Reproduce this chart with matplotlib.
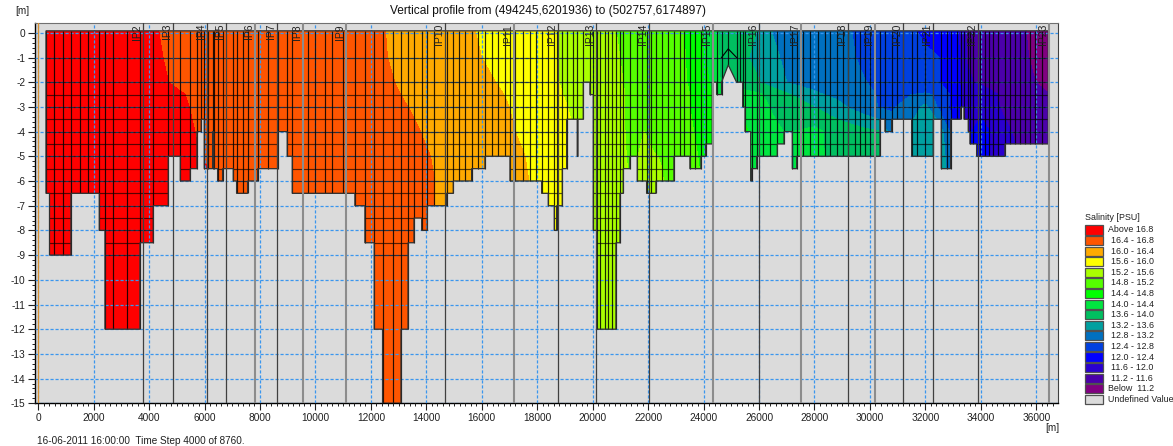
import numpy as np
import matplotlib
matplotlib.use("Agg")
import matplotlib.pyplot as plt
from matplotlib.patches import Polygon, Rectangle

plt.rcParams["font.family"] = ["Liberation Sans", "DejaVu Sans"]
plt.rcParams["axes.unicode_minus"] = False

# ---- class limits and colours, low to high ----
LEVELS = [9, 11.2, 11.6, 12.0, 12.4, 12.8, 13.2, 13.6, 14.0, 14.4, 14.8, 15.2, 15.6, 16.0, 16.4, 16.8, 19]
COLORS = ["#800080", "#4B00AA", "#2A00D0", "#0000FF", "#0040E0", "#0070C0", "#00A0A0", "#00BF60",
          "#00E640", "#00FF00", "#55FF00", "#AAFF00", "#FFFF00", "#FFAA00", "#FF5500", "#FF0000"]
LEGEND_TEXT = ["Above 16.8", "16.4 - 16.8", "16.0 - 16.4", "15.6 - 16.0", "15.2 - 15.6", "14.8 - 15.2",
               "14.4 - 14.8", "14.0 - 14.4", "13.6 - 14.0", "13.2 - 13.6", "12.8 - 13.2", "12.4 - 12.8",
               "12.0 - 12.4", "11.6 - 12.0", "11.2 - 11.6", "Below  11.2", "Undefined Value"]
UNDEF = "#DBDBDB"

# ---- bed: left edge of each step, depth of the step, last entry of bed_x is the end ----
bed_x = [281, 408, 1182, 2204, 2408, 3670, 4151, 4692, 5125, 5485, 5726, 5882, 5990, 6291, 6339, 6471,
         6651, 7036, 7156, 7553, 7913, 8635, 8983, 9164, 11423, 11784, 12120, 12421, 13087, 13340,
         13555, 13831, 14036, 14733, 14973, 15634, 16115, 17017, 18159, 18399, 18615, 18700, 18904,
         19060, 19445, 19470, 19661, 19901, 20022, 20142, 20839, 20983, 21103, 21343, 21608, 21945,
         22281, 22930, 23507, 23904, 24072, 24313, 24469, 24649, 25190, 25410, 25494, 25699, 25735,
         25915, 26660, 26901, 27201, 27357, 30362, 30543, 30783, 31504, 32286, 32574, 32911, 33272,
         33392, 33548, 33608, 33848, 34870, 36433]
bed_z = [-6.5, -9, -6.5, -8, -12, -8.5, -7, -5, -6, -5.5, -4, -3.5, -5.5, -4, -5.5, -6,
         -5.5, -6, -6.5, -6, -5.5, -4, -5, -6.5, -7, -8.5, -12, -15, -12, -8.5,
         -7.5, -8, -7, -6.5, -6, -5.5, -5, -6, -6.5, -7, -8, -7, -5.5,
         -3.5, -5, -3.5, -2, -2.5, -8, -12, -8.5, -6.5, -5.5, -5, -6, -6.5,
         -6, -5, -5.5, -5, -4.5, -2, -2.5, -2, -2, -3, -4, -6, -5.5,
         -5, -4.5, -4, -5.5, -5, -3.5, -4, -3.5, -5, -3.5, -5.5, -3.5, -3,
         -3.5, -4, -4.5, -5, -4.5]
peak_x = [24649, 24890, 25190]
peak_z = [-2, -1.3, -2]
roof_z = [-1, -0.65, -1]
SURFACE = 0.08

# cell boundaries
cell_x = [281, 581, 882, 1182, 1507, 1807, 2204, 2408, 2709, 3190, 3670, 4151, 4692, 5125, 5485, 5726,
          5882, 5990, 6135, 6291, 6339, 6471, 6651, 7036, 7156, 7397, 7553, 7913, 8274, 8635, 8983,
          9164, 9741, 9981, 10342, 10582, 11003, 11423, 11784, 12120, 12421, 12782, 13087, 13340,
          13555, 13831, 14036, 14288, 14733, 14973, 15190, 15394, 15634, 15851, 16115, 16356, 16596,
          16836, 17017, 17197, 17497, 17738, 17954, 18159, 18399, 18615, 18700, 18904, 19060, 19300,
          19445, 19661, 19901, 20022, 20142, 20262, 20442, 20563, 20707, 20839, 20983, 21103, 21343,
          21608, 21765, 21945, 22089, 22281, 22486, 22726, 22930, 23147, 23291, 23507, 23688, 23904,
          24072, 24313, 24469, 24649, 24890, 25190, 25314, 25410, 25494, 25735, 25915, 26155, 26396,
          26660, 26901, 27201, 27357, 27598, 27838, 28139, 28379, 28559, 28800, 29040, 29221, 29461,
          29641, 29822, 30002, 30182, 30362, 30543, 30783, 30963, 31204, 31504, 31685, 31985, 32286,
          32574, 32766, 32911, 33127, 33272, 33392, 33548, 33608, 33728, 33968, 34148, 34293, 34449,
          34630, 34870, 35050, 35231, 35411, 35591, 35771, 35952, 36192, 36433]
layer_z = [-1, -2, -2.5, -3, -3.5, -4, -4.5, -5, -5.5, -6, -6.5, -7, -7.5, -8, -8.5, -9]

# ---- intersection points ----
ip_x = [3791, 4873, 6089, 6774, 7820, 8624, 9562, 11108, 14684, 17162, 18760, 20109, 22042, 24329,
        26010, 27513, 29220, 30172, 31203, 32286, 33888, 36449]
ip_grey = [7820, 9562, 11108, 17162, 24329, 27513, 30172, 36449]
ip_names = ["IP%d" % i for i in range(2, 24)]

# ---- salinity read along the stations, one row per depth ----
sal_x = [0, 4000, 4300, 4700, 5300, 5800, 12000, 12500, 13000, 13500, 14000, 14300, 15700, 16500, 17200,
         17700, 18700, 19100, 19400, 20000, 20800, 21100, 21500, 21850, 22200, 22500, 23300, 23500,
         24000, 24300, 24600, 25500, 26000, 26500, 27000, 28000, 28800, 29300, 29800, 30300, 30800,
         31500, 32000, 32500, 33200, 33500, 34000, 34800, 35600, 36500]
sal_z = [0.4, -1, -2, -2.5, -3, -4, -5, -6, -15]
sal_0 = [17.2, 16.85, 16.8, 16.77, 16.73, 16.7, 16.42, 16.4, 16.35, 16.29, 16.23, 16.19, 16.0, 15.88, 15.78,
         15.73, 15.6, 15.52, 15.46, 15.35, 15.2, 15.16, 15.09, 15.03, 14.98, 14.93, 14.8, 14.7,
         14.43, 14.1, 13.95, 13.72, 13.6, 13.17, 13.1, 12.95, 12.87, 12.8, 12.68, 12.57, 12.5,
         12.4, 12.28, 12.17, 12.0, 11.5, 11.45, 11.35, 11.2, 11.05]
sal_1 = [17.2, 16.85, 16.82, 16.78, 16.74, 16.7, 16.45, 16.41, 16.36, 16.3, 16.25, 16.2, 16.04, 15.93, 15.83,
         15.76, 15.6, 15.53, 15.48, 15.37, 15.23, 15.18, 15.1, 15.05, 15.0, 14.95, 14.82, 14.72,
         14.46, 14.2, 13.97, 13.65, 13.45, 13.25, 13.15, 13.0, 12.9, 12.83, 12.75, 12.65, 12.58,
         12.52, 12.47, 12.4, 12.03, 11.58, 11.5, 11.38, 11.22, 11.08]
sal_2 = [17.2, 16.88, 16.85, 16.8, 16.77, 16.72, 16.5, 16.45, 16.38, 16.33, 16.27, 16.24, 16.12, 16.0, 15.88,
         15.8, 15.62, 15.53, 15.48, 15.38, 15.25, 15.2, 15.13, 15.08, 15.02, 14.98, 14.83, 14.77,
         14.5, 14.35, 14.0, 13.75, 13.62, 13.4, 13.2, 13.05, 12.95, 12.88, 12.81, 12.75, 12.68,
         12.55, 12.47, 12.41, 12.05, 11.65, 11.55, 11.42, 11.27, 11.1]
sal_25 = [17.2, 16.9, 16.87, 16.84, 16.8, 16.72, 16.52, 16.47, 16.41, 16.34, 16.28, 16.25, 16.13, 16.05, 15.93,
          15.84, 15.65, 15.56, 15.5, 15.4, 15.27, 15.21, 15.14, 15.09, 15.03, 14.99, 14.84, 14.8,
          14.55, 14.4, 14.2, 14.15, 14.05, 13.85, 13.65, 13.27, 13.1, 13.0, 12.9, 12.78, 12.75,
          12.8, 12.85, 12.75, 12.1, 11.75, 11.8, 11.55, 11.35, 11.2]
sal_3 = [17.2, 16.92, 16.9, 16.87, 16.82, 16.75, 16.55, 16.5, 16.44, 16.38, 16.3, 16.28, 16.15, 16.07, 15.97,
         15.88, 15.68, 15.6, 15.53, 15.4, 15.28, 15.21, 15.14, 15.09, 15.03, 14.99, 14.85, 14.8,
         14.6, 14.4, 14.35, 14.3, 14.15, 13.95, 13.85, 13.6, 13.35, 13.15, 12.97, 12.79, 12.75,
         13.0, 13.3, 12.7, 12.1, 11.8, 11.85, 11.55, 11.35, 11.25]
sal_4 = [17.2, 16.95, 16.92, 16.9, 16.85, 16.78, 16.6, 16.55, 16.5, 16.44, 16.37, 16.33, 16.17, 16.1, 16.0,
         15.92, 15.72, 15.65, 15.58, 15.42, 15.29, 15.21, 15.15, 15.2, 15.1, 15.02, 14.88, 14.84,
         14.7, 14.38, 14.35, 14.45, 14.2, 14.1, 13.97, 14.1, 13.85, 13.8, 13.7, 13.62, 13.0,
         13.3, 13.4, 13.45, 12.2, 11.9, 12.2, 11.7, 11.45, 11.3]
sal_5 = [17.2, 17.0, 16.97, 16.93, 16.88, 16.8, 16.62, 16.58, 16.53, 16.47, 16.42, 16.38, 16.2, 16.12, 16.05,
         15.98, 15.75, 15.68, 15.6, 15.43, 15.3, 15.22, 15.15, 15.28, 15.22, 15.18, 14.9, 14.87,
         14.75, 14.38, 14.38, 14.5, 14.25, 14.15, 13.95, 14.12, 13.85, 13.82, 13.75, 13.7, 13.3,
         13.4, 13.45, 13.5, 12.5, 12.0, 12.1, 11.8, 11.5, 11.35]
sal_6 = [17.2, 17.0, 16.98, 16.95, 16.9, 16.82, 16.65, 16.6, 16.55, 16.5, 16.45, 16.4, 16.22, 16.14, 16.07,
         16.0, 15.78, 15.7, 15.62, 15.45, 15.3, 15.22, 15.18, 15.35, 15.3, 15.22, 14.9, 14.88,
         14.78, 14.38, 14.38, 14.5, 14.25, 14.15, 13.95, 14.12, 13.85, 13.82, 13.75, 13.7, 13.3,
         13.4, 13.45, 13.5, 12.5, 12.0, 12.1, 11.8, 11.5, 11.35]
sal_rows = [sal_0, sal_1, sal_2, sal_25, sal_3, sal_4, sal_5, sal_6, sal_6]

x_ticks = list(range(0, 36001, 2000))
y_ticks = list(range(-15, 1))


def bottom_at(x):
    """Deepest bed level touching a cell boundary."""
    if peak_x[0] < x < peak_x[-1]:
        return np.interp(x, peak_x, peak_z)
    i = np.searchsorted(bed_x, x)
    left = max(i - 1, 0)
    right = min(i, len(bed_z) - 1)
    if bed_x[min(i, len(bed_x) - 1)] != x:
        return bed_z[left]
    return min(bed_z[left], bed_z[right])


# ------------------------------------------------------------------ figure
fig = plt.figure(figsize=(11.73, 4.46), dpi=100, facecolor="white")
ax = fig.add_axes([35 / 1173, 1 - 403.3 / 446, 1023 / 1173, 380 / 446], facecolor=UNDEF)
ax.set_xlim(-115, 36784)
ax.set_ylim(-15, 0.385)

# water body outline, with the small peak in it
pts = [(bed_x[0], SURFACE)]
for x0, x1, z in zip(bed_x[:-1], bed_x[1:], bed_z):
    if x0 == peak_x[0]:
        pts += list(zip(peak_x, peak_z))
    else:
        pts += [(x0, z), (x1, z)]
pts.append((bed_x[-1], SURFACE))
water = Polygon(pts, closed=True, facecolor="none", edgecolor="#303030", lw=0.9, zorder=4)
ax.add_patch(water)

cs = ax.contourf(sal_x, sal_z, np.array(sal_rows), levels=LEVELS, colors=COLORS, zorder=2)
cs.set_clip_path(water)

hl = ax.hlines(layer_z, bed_x[0], bed_x[-1], color="black", lw=0.85, alpha=0.65, zorder=3)
hl.set_clip_path(water)
ax.vlines(cell_x, [bottom_at(x) for x in cell_x], SURFACE, color="black", lw=0.85, alpha=0.85, zorder=3)
ax.plot(peak_x, roof_z, color="black", lw=0.8, zorder=3)

# section lines
ax.axvline(0, color="#D89030", lw=0.9, zorder=5)
for x, name in zip(ip_x, ip_names):
    grey = x in ip_grey
    ax.axvline(x, color="#8C8C8C" if grey else "#404040", lw=1.5 if grey else 0.9, zorder=5)
    ax.text(x - 215, 0.36, name, rotation=90, ha="center", va="top", fontsize=7.5, color="#202020", zorder=6)

ax.set_xticks(x_ticks)
ax.set_yticks(y_ticks)
ax.set_xticks(np.arange(0, 36700, 200), minor=True)
ax.set_yticks(np.arange(-15, 0.1, 0.2), minor=True)
ax.tick_params(which="major", length=5, width=0.8, labelsize=7.3, colors="#202020", pad=2)
ax.tick_params(which="minor", length=2.5, width=0.7, color="#202020")
ax.grid(True, which="major", color="#3A96EE", lw=0.9, ls=(0, (2.5, 1.5)), zorder=7)
ax.set_axisbelow(False)
ax.spines["left"].set_linewidth(1.0)
ax.spines["bottom"].set_linewidth(1.0)
ax.spines["top"].set_color("#707070")
ax.spines["right"].set_color("#404040")

# ---- texts and legend in pixel coordinates ----
lg = fig.add_axes([0, 0, 1, 1], facecolor="none")
lg.set_xlim(0, 1173)
lg.set_ylim(446, 0)
lg.axis("off")
lg.text(548, 11, "Vertical profile from (494245,6201936) to (502757,6174897)", ha="center", va="center",
        fontsize=8.6, color="#101010")
lg.text(15, 11, "[m]", va="center", fontsize=7.2, color="#202020")
lg.text(1045, 428, "[m]", va="center", fontsize=7.2, color="#202020")
lg.text(37, 441, "16-06-2011 16:00:00  Time Step 4000 of 8760.", va="center", fontsize=7.2, color="#202020")
lg.text(1085, 217.5, "Salinity [PSU]", va="center", fontsize=6.4, color="#202020")
swatches = COLORS[::-1] + [UNDEF]
for i, (col, label) in enumerate(zip(swatches, LEGEND_TEXT)):
    y = 230 + i * 10.59
    lg.add_patch(Rectangle((1085, y - 4.6), 18, 9.2, facecolor=col, edgecolor="#505050", lw=0.9))
    indent = 1108 if label[0] in "AUB" else 1111
    lg.text(indent, y, label, va="center", fontsize=6.4, color="#202020")

fig.savefig("out.png", dpi=100, facecolor="white")
